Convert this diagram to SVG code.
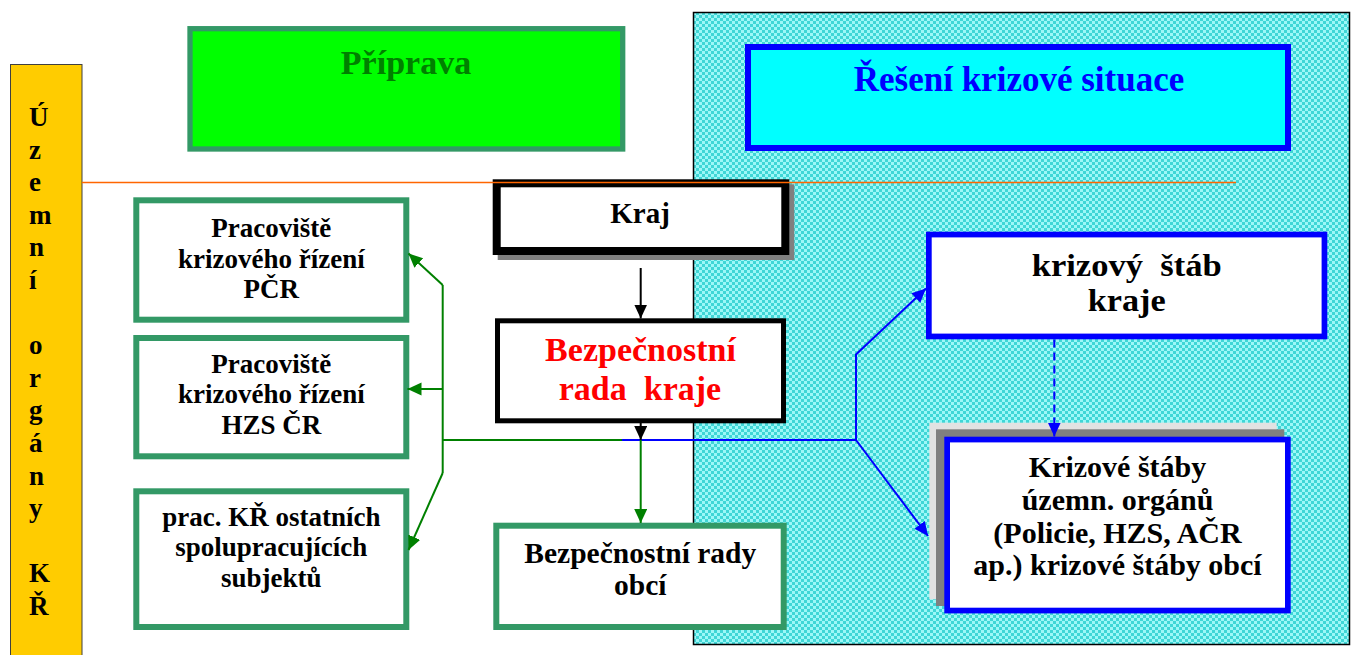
<svg xmlns="http://www.w3.org/2000/svg" width="1352" height="655" viewBox="0 0 1352 655">
<style>
text{font-family:"Liberation Serif","Times New Roman",serif;font-weight:bold;fill:#000}
.c{text-anchor:middle}
.yl{font-size:27px}
.lb{font-size:27px}
.gbox{fill:#fff;stroke:#339966;stroke-width:6}
.bbox{fill:#fff;stroke:#0000ff;stroke-width:5.7}
.gl{fill:none;stroke:#008000;stroke-width:2}
.bl{fill:none;stroke:#0000ff;stroke-width:2}
.kl{fill:none;stroke:#000;stroke-width:2}
.pre{white-space:pre}
</style>
<defs>
<pattern id="chk" width="6" height="6" patternUnits="userSpaceOnUse">
<rect width="6" height="6" fill="#9cf7f7"/>
<rect width="3" height="3" fill="#3fd6d6"/>
<rect x="3" y="3" width="3" height="3" fill="#3fd6d6"/>
</pattern>
<marker id="ag" markerUnits="userSpaceOnUse" markerWidth="15" markerHeight="14" refX="14" refY="6.5" orient="auto"><path d="M0,0 L14,6.5 L0,13 z" fill="#008000"/></marker>
<marker id="ab" markerUnits="userSpaceOnUse" markerWidth="15" markerHeight="14" refX="14" refY="6.5" orient="auto"><path d="M0,0 L14,6.5 L0,13 z" fill="#0000ff"/></marker>
<marker id="ak" markerUnits="userSpaceOnUse" markerWidth="15" markerHeight="14" refX="14" refY="6.5" orient="auto"><path d="M0,0 L14,6.5 L0,13 z" fill="#000"/></marker>
</defs>
<rect width="1352" height="655" fill="#fff"/>

<g id="resolution-area">
<rect x="693.5" y="12.5" width="656" height="632" fill="url(#chk)" stroke="#000" stroke-width="1.5"/>
</g>

<g id="uzemni-organy">
<rect x="10.5" y="64.5" width="71.5" height="600" fill="#ffcc00" stroke="#404040" stroke-width="1"/>
<text class="yl" x="29" y="126">Ú</text>
<text class="yl" x="29" y="158.6">z</text>
<text class="yl" x="29" y="191.2">e</text>
<text class="yl" x="29" y="223.8">m</text>
<text class="yl" x="29" y="256.4">n</text>
<text class="yl" x="29" y="289">í</text>
<text class="yl" x="29" y="354.2">o</text>
<text class="yl" x="29" y="386.8">r</text>
<text class="yl" x="29" y="419.4">g</text>
<text class="yl" x="29" y="452">á</text>
<text class="yl" x="29" y="484.6">n</text>
<text class="yl" x="29" y="517.2">y</text>
<text class="yl" x="29" y="582.4">K</text>
<text class="yl" x="29" y="615">Ř</text>
</g>

<g id="priprava">
<rect x="190" y="28.7" width="432.7" height="120.3" fill="#00ff00" stroke="#339966" stroke-width="5.3"/>
<text class="c" x="406" y="73.5" style="font-size:34px;fill:#008000">Příprava</text>
</g>

<g id="reseni">
<rect x="748" y="47" width="540" height="101" fill="#00ffff" stroke="#0000ff" stroke-width="6"/>
<text class="c" x="1019" y="90.5" style="font-size:35px;fill:#0000ff">Řešení krizové situace</text>
</g>

<g id="pracoviste-pcr">
<rect class="gbox" x="136.3" y="200.3" width="270" height="119.4"/>
<text class="c lb" x="271.3" y="237">Pracoviště</text>
<text class="c lb" x="271.3" y="267.5">krizového řízení</text>
<text class="c lb" x="271.3" y="298">PČR</text>
</g>

<g id="pracoviste-hzs">
<rect class="gbox" x="136.3" y="338" width="270" height="118.3"/>
<text class="c lb" x="271.3" y="372.5">Pracoviště</text>
<text class="c lb" x="271.3" y="403">krizového řízení</text>
<text class="c lb" x="271.3" y="433.5">HZS ČR</text>
</g>

<g id="prac-kr-ostatnich">
<rect class="gbox" x="136.3" y="491.3" width="270" height="135.7"/>
<text class="c lb" x="271.3" y="525.5">prac. KŘ ostatních</text>
<text class="c lb" x="271.3" y="556">spolupracujících</text>
<text class="c lb" x="271.3" y="586.5">subjektů</text>
</g>

<g id="kraj">
<rect x="497.7" y="184.3" width="296.6" height="75.7" fill="#808080"/>
<rect x="496.7" y="183.3" width="288.6" height="67.7" fill="#fff" stroke="#000" stroke-width="8"/>
<text class="c" x="640" y="222.5" style="font-size:29px">Kraj</text>
</g>

<g id="bezpecnostni-rada-kraje">
<rect x="497.5" y="320.8" width="286" height="100" fill="#fff" stroke="#000" stroke-width="5"/>
<text class="c" x="640.5" y="360.7" style="font-size:34px;fill:#ff0000">Bezpečnostní</text>
<text class="c pre" xml:space="preserve" x="640" y="400" style="font-size:34px;fill:#ff0000">rada  kraje</text>
</g>

<g id="bezpecnostni-rady-obci">
<rect class="gbox" x="496.3" y="525.7" width="287.4" height="101.3"/>
<text class="c" x="640.3" y="563.3" style="font-size:29.5px">Bezpečnostní rady</text>
<text class="c" x="640.3" y="595" style="font-size:29.5px">obcí</text>
</g>

<g id="krizovy-stab-kraje">
<rect class="bbox" x="928.85" y="234.55" width="395.6" height="101.9"/>
<text class="c pre" xml:space="preserve" x="1126.7" y="276" textLength="190" lengthAdjust="spacingAndGlyphs" style="font-size:31.5px">krizový  štáb</text>
<text class="c" x="1126.7" y="310.5" textLength="78" lengthAdjust="spacingAndGlyphs" style="font-size:31.5px">kraje</text>
</g>

<g id="krizove-staby">
<rect x="929.3" y="422.7" width="347.4" height="176.6" fill="#e2e2e2"/>
<rect x="936" y="429.3" width="348.3" height="176.7" fill="#808080"/>
<rect class="bbox" x="947.15" y="439.55" width="340.7" height="171"/>
<text class="c" x="1117.5" y="477.3" style="font-size:30px">Krizové štáby</text>
<text class="c" x="1117.5" y="510" style="font-size:30px">územn. orgánů</text>
<text class="c" x="1117.5" y="542.7" style="font-size:30px">(Policie, HZS, AČR</text>
<text class="c" x="1117.5" y="575.3" style="font-size:30px">ap.) krizové štáby obcí</text>
</g>

<g id="connectors">
<line x1="82" y1="182.5" x2="1236" y2="182.5" stroke="#ff6600" stroke-width="1.6"/>
<path class="kl" d="M640.7,268 L640.7,318.5" marker-end="url(#ak)"/>
<path class="gl" d="M442.7,285 L442.7,473"/>
<path class="gl" d="M442.7,285 L408.5,253.5" marker-end="url(#ag)"/>
<path class="gl" d="M442.7,389 L407.5,389" marker-end="url(#ag)"/>
<path class="gl" d="M442.7,473 L408.5,550" marker-end="url(#ag)"/>
<path class="gl" d="M442.7,440 L622,440"/>
<path class="bl" d="M622,440 L856,440 L856,354.5 L926,288.5" marker-end="url(#ab)"/>
<path class="bl" d="M856,440 L928,536" marker-end="url(#ab)"/>
<path class="gl" d="M640.7,440 L640.7,523" marker-end="url(#ag)"/>
<path class="kl" d="M640.7,423 L640.7,440" marker-end="url(#ak)"/>
<path class="bl" d="M1054.3,339.5 L1054.3,436.5" stroke-dasharray="8,5" marker-end="url(#ab)"/>
</g>
</svg>
